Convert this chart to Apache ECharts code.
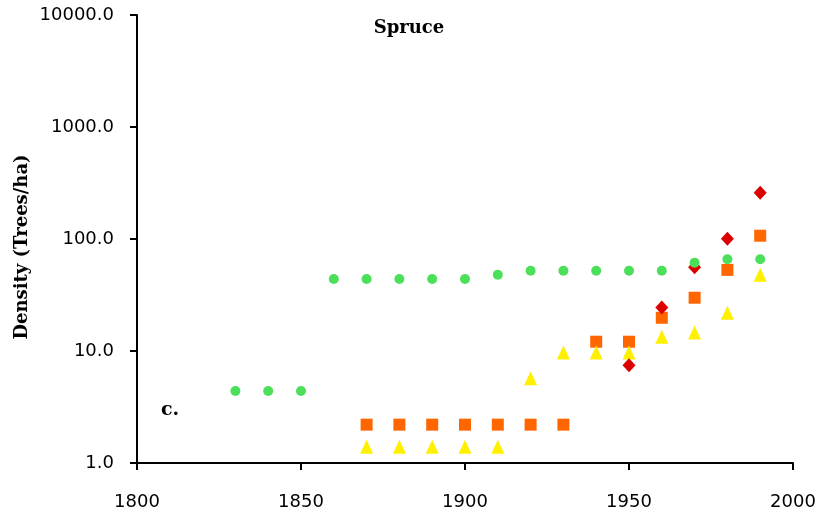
<!DOCTYPE html>
<html>
<head>
<meta charset="utf-8">
<script src="https://cdn.jsdelivr.net/npm/echarts@6/dist/echarts.min.js"></script>
<style>html,body{margin:0;padding:0;background:#fff}#c{width:820px;height:517px}</style>
</head>
<body>
<div id="c"></div>
<script>
const squareYears = [1870,1880,1890,1900,1910,1920,1930,1940,1950,1960,1970,1980,1990];
const squareVals  = [2.2,2.2,2.2,2.2,2.2,2.2,2.2,12.1,12.1,19.8,29.9,53,107];
const triYears = [1870,1880,1890,1900,1910,1920,1930,1940,1950,1960,1970,1980,1990];
const triVals  = [1.4,1.4,1.4,1.4,1.4,5.7,9.7,9.7,9.7,13.4,14.6,22,48];
const diamondYears = [1950,1960,1970,1980,1990];
const diamondVals  = [7.45,24.4,56,100.7,259];
const circleYears = [1830,1840,1850,1860,1870,1880,1890,1900,1910,1920,1930,1940,1950,1960,1970,1980,1990];
const circleVals  = [4.4,4.4,4.4,44,44,44,44,44,48,52,52,52,52,52,61.5,66,66];
const yTicks = [1,10,100,1000,10000];

function pairs(xs, ys){ return xs.map((x,i)=>[x, ys[i]]); }

const chart = echarts.init(document.getElementById('c'));
chart.setOption({
  animation:false,
  backgroundColor:'#fff',
  grid:{left:137,right:27,top:15,bottom:54,containLabel:false},
  xAxis:{type:'value',min:1800,max:2000,interval:50,
    axisLine:{show:true,lineStyle:{color:'#000',width:2}},
    axisTick:{show:true,inside:false,length:7,lineStyle:{color:'#000',width:2}},
    axisLabel:{color:'#000',fontFamily:'DejaVu Sans',fontSize:18,margin:30,formatter:v=>String(v)},
    splitLine:{show:false}},
  yAxis:{type:'log',logBase:10,min:yTicks[0],max:yTicks[yTicks.length-1],
    axisLine:{show:true,lineStyle:{color:'#000',width:2}},
    axisTick:{show:true,inside:false,length:7,lineStyle:{color:'#000',width:2}},
    axisLabel:{color:'#000',fontFamily:'DejaVu Sans',fontSize:18,margin:23,formatter:v=>Number(v).toFixed(1)},
    splitLine:{show:false},minorTick:{show:false}},
  graphic:[
    {type:'text',x:409,y:28,style:{text:'Spruce',fontFamily:'DejaVu Serif',fontWeight:'bold',fontSize:18,fill:'#000',align:'center',verticalAlign:'middle'}},
    {type:'text',x:22,y:247,rotation:Math.PI/2,style:{text:'Density (Trees/ha)',fontFamily:'DejaVu Serif',fontWeight:'bold',fontSize:18,fill:'#000',align:'center',verticalAlign:'middle'}},
    {type:'text',x:170,y:410,style:{text:'c.',fontFamily:'DejaVu Serif',fontWeight:'bold',fontSize:19,fill:'#000',align:'center',verticalAlign:'middle'}}
  ],
  series:[
    {type:'scatter',data:pairs(squareYears,squareVals),symbol:'rect',symbolSize:12,itemStyle:{color:'#FF6600',opacity:1}},
    {type:'scatter',data:pairs(triYears,triVals),symbol:'triangle',symbolSize:[13,14],itemStyle:{color:'#FFF000',opacity:1}},
    {type:'scatter',data:pairs(diamondYears,diamondVals),symbol:'diamond',symbolSize:[13,14],itemStyle:{color:'#DD0000',opacity:1}},
    {type:'scatter',data:pairs(circleYears,circleVals),symbol:'circle',symbolSize:10,itemStyle:{color:'#4CE05A',opacity:1}}
  ]
});
</script>
</body>
</html>
